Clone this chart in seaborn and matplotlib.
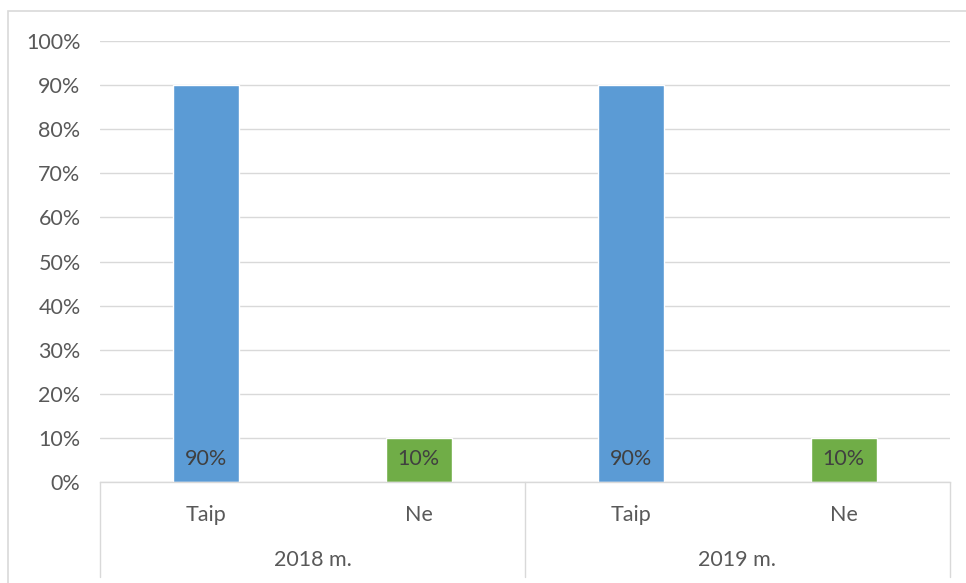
import matplotlib
matplotlib.use("Agg")
import matplotlib.pyplot as plt
import matplotlib.transforms as mtransforms
from matplotlib.patches import Rectangle
from matplotlib.lines import Line2D
import pandas as pd
import seaborn as sns

# Survey answers per year (share of respondents, %)
years = ["2018 m.", "2019 m."]
answers = ["Taip", "Ne"]
share_2018 = [90, 10]
share_2019 = [90, 10]
y_ticks = [0, 10, 20, 30, 40, 50, 60, 70, 80, 90, 100]
answer_colors = {"Taip": "#5B9BD5", "Ne": "#70AD47"}

rows = []
for year, shares in zip(years, [share_2018, share_2019]):
    for ans, val in zip(answers, shares):
        rows.append({"key": f"{year} {ans}", "year": year, "answer": ans, "share": val})
df = pd.DataFrame(rows)

sns.set_theme(style="white")
plt.rcParams["font.family"] = ["Lato", "DejaVu Sans"]

FS = 15.5
W, H = 966, 583
fig = plt.figure(figsize=(W / 100, H / 100), dpi=100)
ax = fig.add_axes([100 / W, (H - 482) / H, 850 / W, 441 / H])

sns.barplot(data=df, x="key", y="share", hue="answer", palette=answer_colors,
            dodge=False, width=0.312, legend=False, ax=ax, saturation=1)

ax.set_xlim(-0.5, len(df) - 0.5)
ax.set_ylim(0, 100)
ax.set_yticks(y_ticks)
ax.set_yticklabels([f"{t}%" for t in y_ticks])
ax.tick_params(axis="y", length=0, pad=14, labelsize=FS, labelcolor="#595959")
ax.set_xticks([])
ax.set_xlabel("")
ax.set_ylabel("")
ax.yaxis.grid(True, color="#d9d9d9", linewidth=1)
ax.set_axisbelow(True)
for side in ["top", "right", "left"]:
    ax.spines[side].set_visible(False)
ax.spines["bottom"].set_color("#d9d9d9")
ax.spines["bottom"].set_linewidth(1)

# value labels at the inside base of each bar
for i, v in enumerate(df["share"]):
    ax.annotate(f"{v:.0f}%", xy=(i, 0), xytext=(0, 16.5), textcoords="offset points",
                ha="center", va="center", fontsize=FS, color="#404040")

# two-level category axis
tr = mtransforms.blended_transform_factory(ax.transData, fig.transFigure)
for i, ans in enumerate(df["answer"]):
    ax.text(i, (H - 515) / H, ans, transform=tr, ha="center", va="center",
            fontsize=FS, color="#595959")
for g, year in enumerate(years):
    ax.text(2 * g + 0.5, (H - 560) / H, year, transform=tr, ha="center", va="center",
            fontsize=FS, color="#595959")
for xs in [-0.5, 1.5, 3.5]:
    ax.add_line(Line2D([xs, xs], [(H - 482) / H, (H - 577) / H], transform=tr,
                       color="#d9d9d9", linewidth=1, clip_on=False))

# chart area border
fig.patches.append(Rectangle((8 / W, -0.2), 1.2, (H - 11) / H + 0.2, transform=fig.transFigure,
                             fill=False, edgecolor="#d9d9d9", linewidth=1.2))

fig.savefig("out.png", dpi=100)
